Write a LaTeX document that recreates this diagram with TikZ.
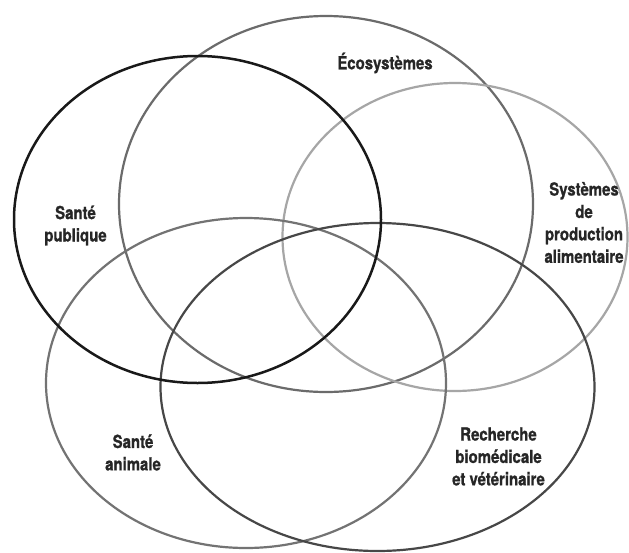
\documentclass[tikz,border=0pt]{standalone}
\usepackage{fontspec}
\setmainfont{TeX Gyre Heros}[FakeStretch=0.83, BoldFeatures={FakeBold=0.9}]
\begin{document}
\begin{tikzpicture}[x=1pt,y=-1pt,
  ring/.style={line width=2.2pt},
  lbl/.style={font=\fontsize{18}{22.4}\selectfont\bfseries, text=black!85, align=center, inner sep=0pt}]
\useasboundingbox (0,0) rectangle (629,552);
\fill[white] (0,0) rectangle (629,552);
% centres
\coordinate (ceco) at (326,204);
\coordinate (cpub) at (197.5,219.5);
\coordinate (cali) at (455,237);
\coordinate (cani) at (246,383);
\coordinate (crec) at (377.5,387);
% ellipses
\draw[ring, draw=black!58] (ceco) ellipse [x radius=207, y radius=188];
\draw[ring, draw=black!35] (cali) ellipse [x radius=172.5, y radius=154];
\draw[ring, draw=black!55] (cani) ellipse [x radius=200, y radius=165];
\draw[ring, draw=black!72] (crec) ellipse [x radius=217, y radius=164];
\draw[ring, line width=2.5pt, draw=black!90] (cpub) ellipse [x radius=183.5, y radius=163.5];
% labels
\node[lbl] (leco) at (385,63) {Écosystèmes};
\node[lbl] (lpub) at (75.5,225.5) {Santé\\publique};
\node[lbl] (lali) at (584,222.5) {Systèmes\\de\\production\\alimentaire};
\node[lbl] (lani) at (133,452.5) {Santé\\animale};
\node[lbl] (lrec) at (498.5,456.5) {Recherche\\biomédicale\\et vétérinaire};
\end{tikzpicture}
\end{document}
